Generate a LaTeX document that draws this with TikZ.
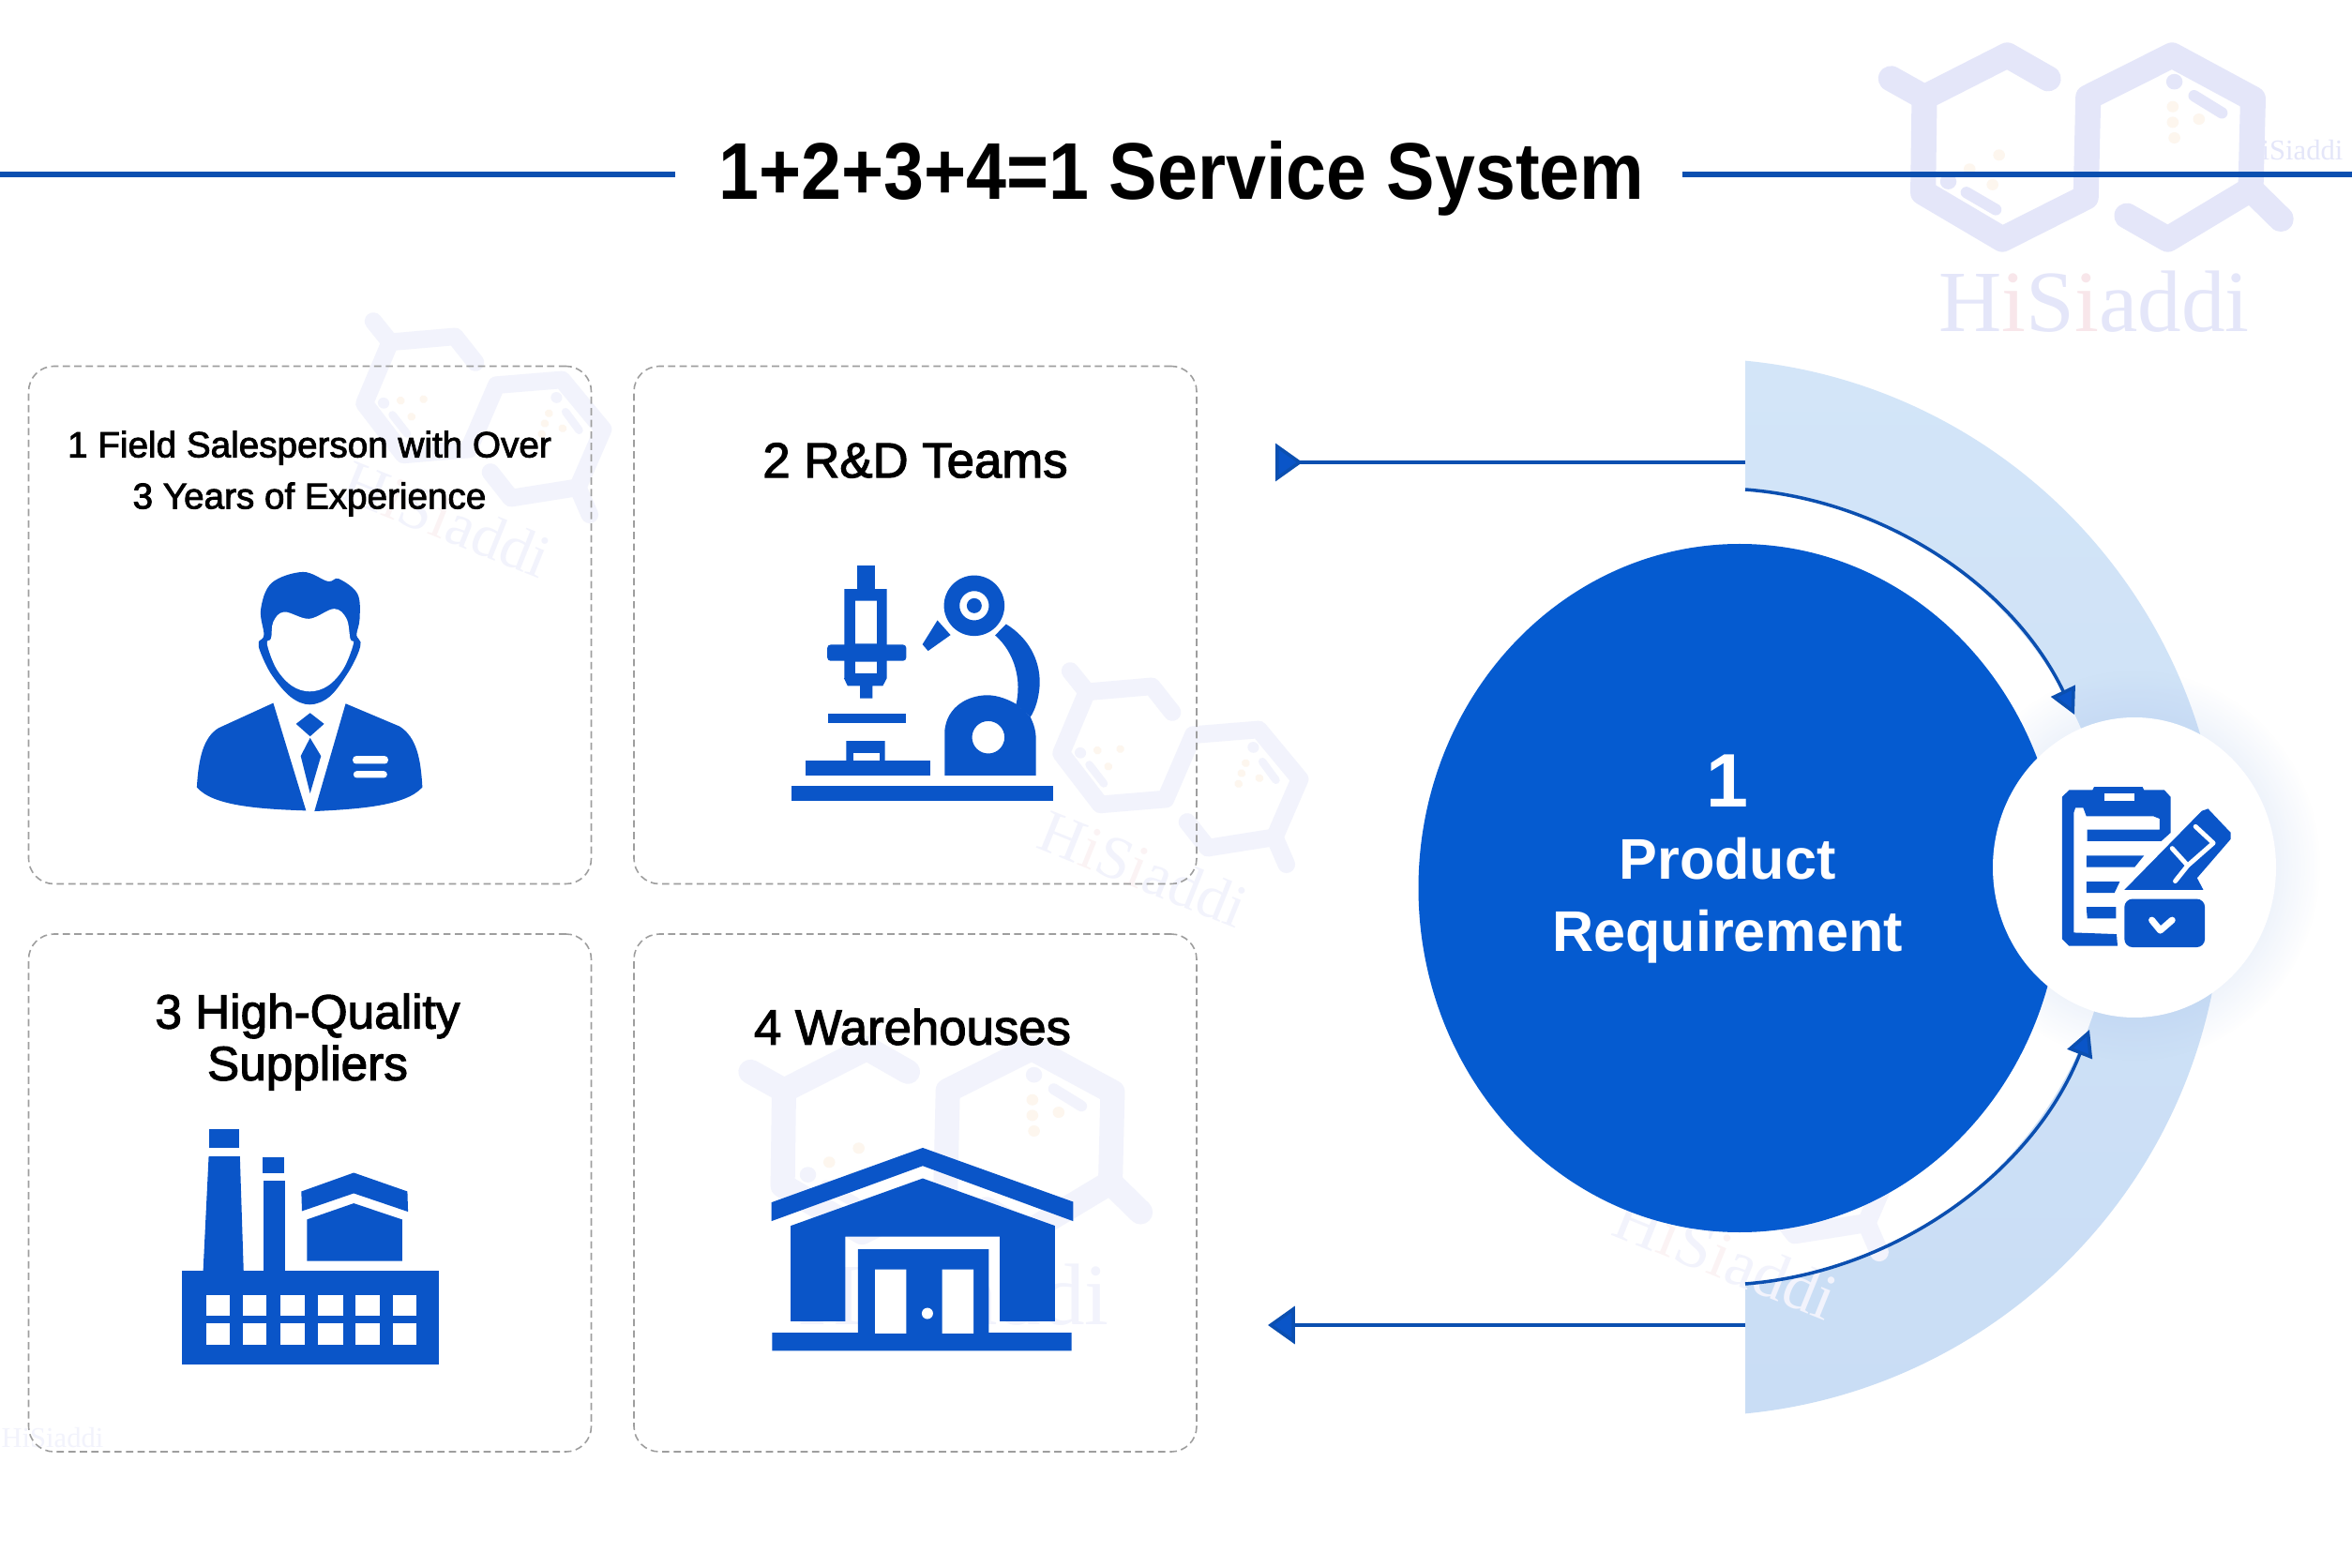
\documentclass[tikz,border=0pt]{standalone}
\usepackage{fontspec}
\usetikzlibrary{arrows.meta,shapes.geometric,fadings}
\setmainfont{Liberation Sans}
\newfontfamily\titlefont[FakeStretch=0.9]{Liberation Sans}
\newfontfamily\cardfont[FakeBold=2.2]{Liberation Sans}
\newfontfamily\logofont{Liberation Serif}
\definecolor{IconBlue}{HTML}{0A55C8}
\definecolor{DiscBlue}{HTML}{055BD0}
\definecolor{LineBlue}{HTML}{0B4FB0}
\definecolor{BandTop}{HTML}{D3E5F8}
\definecolor{BandMid}{HTML}{EAF3FC}
\definecolor{BandLow}{HTML}{C9DDF5}
\definecolor{LogoTint}{HTML}{E4E6F9}
\definecolor{LogoPale}{HTML}{F2F3FC}
\definecolor{LogoPink}{HTML}{F8E6EA}
\definecolor{LogoBlush}{HTML}{FBF3F4}
\definecolor{LogoDot}{HTML}{FDF6EE}
\tikzfading[name=glowfade,inner color=transparent!0,outer color=transparent!100]
\tikzset{
  crop/.style 2 args={shift={(#1,#2)},x=0.00333cm,y=-0.00333cm},
  pics/logomark/.style n args={3}{code={
    \begin{scope}[x=0.0035cm,y=-0.00333cm,line cap=round,line join=round]
      \foreach \dx/\dy in {260/-130,340/-90,260/-80,265/-30,-270/25,-360/70,-290/120}
        \fill[LogoDot] (\dx,\dy) circle[radius=18];
      \draw[#2,line width=#1] (-120,-220) -- (-245,-295) -- (-498,-160) -- (-600,-220);
      \draw[#2,line width=#1] (-498,-160) -- (-502,145) -- (-260,295) -- (-5,160) -- (2,-160)
        -- (258,-295) -- (505,-155) -- (498,135) -- (245,295) -- (120,220);
      \draw[#2,line width=#1] (498,135) -- (590,230);
      \draw[#2,line width=0.45*#1] (-370,145) -- (-280,200) (325,-165) -- (410,-110);
      \fill[#2] (-425,110) circle[radius=25] (265,-210) circle[radius=25];
      \node[text=#2,font=\logofont\fontsize{26.5}{30}\selectfont,transform shape] at (20,495)
        {H\textcolor{#3}{i}S\textcolor{#3}{i}addi};
    \end{scope}
  }}
}
\begin{document}
\begin{tikzpicture}[
    cardbox/.style={draw=black!38,line width=0.45pt,dash pattern=on 2.2pt off 1.3pt,rounded corners=0.27cm,
      minimum width=6cm,minimum height=5.52cm,inner sep=0pt},
    cardlabel/.style={align=center,font=\cardfont\fontsize{15}{15.7}\selectfont},
    flowline/.style={draw=LineBlue,line width=1pt},
    flowtip/.style={-{Triangle[length=8.2pt,width=11.4pt,fill=IconBlue]}},
    flowback/.style={-{Triangle[reversed,length=8.2pt,width=11.4pt,fill=IconBlue]}},
    bendtip/.style={-{Triangle[length=8pt,width=8pt,fill=IconBlue]}}
  ]
  \useasboundingbox (0,0) rectangle (25.08,-16.72);
  \fill[white] (0,0) rectangle (25.08,-16.72);

  \pic at (22.26,-1.57) {logomark={7.7pt}{LogoTint}{LogoPink}};
  \pic[rotate=-22,scale=0.7,transform shape] at (5.15,-4.45) {logomark={5.3pt}{LogoPale}{LogoBlush}};
  \pic[rotate=-22,scale=0.7,transform shape] at (12.58,-8.18) {logomark={5.3pt}{LogoPale}{LogoBlush}};
  \pic[scale=1,transform shape] at (10.1,-12.16) {logomark={7.4pt}{LogoPale}{LogoBlush}};
  \node[text=LogoTint,font=\logofont\fontsize{8.7}{10}\selectfont] (marktop) at (24.44,-1.6) {HiSiaddi};
  \node[text=LogoPale,font=\logofont\fontsize{8.7}{10}\selectfont] (markleft) at (0.56,-15.33) {HiSiaddi};

  \draw[LineBlue,line width=1.9pt] (0,-1.86) -- (7.2,-1.86);
  \draw[LineBlue,line width=1.9pt] (17.94,-1.86) -- (25.08,-1.86);
  \node[anchor=base,font=\titlefont\bfseries\fontsize{24.4}{28}\selectfont] (title) at (12.6,-2.13) {1+2+3+4=1 Service System};

  \node[cardbox] (card1) at (3.305,-6.665) {};
  \node[cardbox] (card2) at (9.76,-6.665) {};
  \node[cardbox] (card3) at (3.305,-12.72) {};
  \node[cardbox] (card4) at (9.76,-12.72) {};
  \node[cardlabel,font=\cardfont\fontsize{11}{15.6}\selectfont] (label1) at (3.3,-5.05) {1 Field Salesperson with Over\\3 Years of Experience};
  \node[cardlabel] (label2) at (9.76,-4.91) {2 R\&D Teams};
  \node[cardlabel,font=\cardfont\fontsize{14.6}{15.7}\selectfont] (label3) at (3.28,-11.11) {3 High-Quality\\Suppliers};
  \node[cardlabel] (label4) at (9.73,-10.95) {4 Warehouses};

  \begin{scope}[crop={1.7}{-5.8}]
    \fill[IconBlue] plot[smooth cycle,tension=0.6] coordinates {(482,515)(420,490)(360,420)(325,350)(318,315)(335,292)(325,210)(360,125)(460,90)(540,120)(575,112)(635,160)(642,240)(632,292)(645,315)(635,355)(600,420)(545,490)};
    \fill[white] plot[smooth cycle,tension=0.6] coordinates {(365,250)(400,218)(480,240)(560,208)(600,240)(612,305)(622,320)(590,400)(540,455)(482,473)(425,455)(375,400)(345,320)(358,303)};
    \fill[IconBlue] (365,510) -- (470,855) .. controls (320,850) and (170,840) .. (120,780) .. controls (125,690) and (140,620) .. (190,590) -- cycle;
    \fill[IconBlue] (597,512) -- (497,857) .. controls (640,850) and (790,840) .. (843,780) .. controls (838,690) and (825,620) .. (770,585) -- cycle;
    \fill[IconBlue] (483,542) -- (528,577) -- (483,617) -- (438,577) -- cycle;
    \fill[IconBlue] (483,622) -- (518,680) -- (483,800) -- (453,680) -- cycle;
    \fill[white,rounded corners=1pt] (620,680) rectangle (733,705) (622,728) rectangle (730,750);
  \end{scope}

  \begin{scope}[crop={8.2}{-5.8}]
    \fill[IconBlue] (282,70) rectangle (340,150);
    \fill[IconBlue,even odd rule] (242,145) rectangle (378,430) (276,182) rectangle (346,320) (276,378) rectangle (346,415);
    \fill[IconBlue,rounded corners=1pt] (187,323) rectangle (440,375);
    \fill[IconBlue] (240,430) -- (378,430) -- (365,455) -- (332,455) -- (332,495) -- (292,495) -- (292,455) -- (252,455) -- cycle;
    \fill[IconBlue] (190,543) rectangle (440,575);
    \fill[IconBlue,even odd rule] (248,632) rectangle (372,695) (270,670) rectangle (355,695);
    \fill[IconBlue] (117,695) rectangle (518,742);
    \fill[IconBlue] (72,775) rectangle (911,825);
    \fill[IconBlue,even odd rule] (658,198) circle[radius=97] (658,198) circle[radius=47];
    \fill[IconBlue] (658,198) circle[radius=24];
    \fill[IconBlue] (540,245) -- (582,292) -- (510,343) -- (492,322) -- cycle;
    \fill[IconBlue] (760,257) .. controls (830,300) and (870,370) .. (868,450) .. controls (866,490) and (855,530) .. (838,555) -- (792,515) .. controls (810,440) and (790,350) .. (725,293) -- cycle;
    \fill[IconBlue,even odd rule] (563,742) -- (563,600) .. controls (570,520) and (640,485) .. (700,485) .. controls (735,485) and (770,500) .. (795,515) -- (838,555) .. controls (850,580) and (856,600) .. (856,630) -- (856,742) -- cycle (703,620) circle[radius=52];
  \end{scope}

  \begin{scope}[crop={1.7}{-11.8}]
    \fill[IconBlue] (158,72) rectangle (256,133);
    \fill[IconBlue] (158,160) -- (258,160) -- (270,530) -- (140,530) -- cycle;
    \fill[IconBlue] (332,163) rectangle (400,213);
    \fill[IconBlue] (335,237) rectangle (402,530);
    \fill[IconBlue] (455,272) -- (623,212) -- (795,272) -- (797,337) -- (623,278) -- (457,335) -- cycle;
    \fill[IconBlue] (473,362) -- (623,310) -- (778,362) -- (778,495) -- (473,495) -- cycle;
    \fill[IconBlue] (72,525) rectangle (897,828);
    \foreach \wa/\wb in {150/226,267/344,388/466,508/588,628/706,748/825}
      \foreach \ha/\hb in {604/670,695/765}
        \fill[white] (\wa,\ha) rectangle (\wb,\hb);
  \end{scope}

  \begin{scope}[crop={8}{-12}]
    \fill[IconBlue] (68,247) -- (553,72) -- (1035,245) -- (1035,307) -- (553,130) -- (68,307) -- cycle;
    \fill[IconBlue] (130,322) -- (553,170) -- (977,322) -- (977,628) -- (800,628) -- (800,357) -- (305,357) -- (305,628) -- (130,628) -- cycle;
    \fill[IconBlue] (70,665) -- (345,665) -- (345,397) -- (765,397) -- (765,665) -- (1030,665) -- (1030,723) -- (70,723) -- cycle;
    \fill[white] (400,462) rectangle (500,667) (615,462) rectangle (716,667);
    \fill[white] (568,603) circle[radius=18];
  \end{scope}

  \begin{scope}
    \clip (18.61,-3.7) rectangle (24.2,-15.2);
    \shade[top color=BandTop,middle color=BandMid,bottom color=BandLow] (18.06,-9.46) circle[radius=5.64];
    \fill[white] (18.29,-9.46) circle[radius=4.25];
  \end{scope}

  \pic[rotate=-22,scale=0.75,transform shape] at (18.82,-12.24) {logomark={5.7pt}{LogoPale}{LogoBlush}};
  \fill[IconBlue!45,path fading=glowfade,opacity=0.6] (22.76,-9.23) ellipse[x radius=1.98,y radius=2.08];
  \node[ellipse,fill=DiscBlue,minimum width=6.85cm,minimum height=7.34cm,inner sep=0pt] (reqdisc) at (18.55,-9.47) {};
  \node[align=center,text=white,font=\bfseries\fontsize{17.4}{21.9}\selectfont] (reqlabel) at (18.42,-9.16) {{\fontsize{23}{21.9}\selectfont 1}\\Product\\Requirement};
  \node[ellipse,fill=white,minimum width=3.02cm,minimum height=3.2cm,inner sep=0pt] (checkdisc) at (22.76,-9.25) {};

  \begin{scope}[crop={21}{-7.4}]
    \fill[IconBlue] (297,330) -- (320,308) -- (395,308) -- (400,298) -- (555,298) -- (560,308) -- (625,308) -- (645,330) -- (645,445) -- (615,472) -- (378,472) -- (378,435) -- (610,435) -- (610,400) -- (590,392) -- (375,392) -- (365,365) -- (340,365) -- (335,380) -- (335,765) -- (472,770) -- (475,808) -- (320,808) -- (297,785) -- cycle;
    \fill[white] (432,318) rectangle (530,342);
    \fill[IconBlue] (375,518) -- (560,518) -- (530,555) -- (375,555) -- cycle;
    \fill[IconBlue] (375,602) -- (482,602) -- (465,638) -- (375,638) -- cycle;
    \fill[IconBlue] (375,683) -- (470,683) -- (470,720) -- (378,720) -- cycle;
    \fill[IconBlue] (497,628) -- (745,375) -- (765,368) -- (838,445) -- (838,465) -- (730,590) -- (750,628) -- cycle;
    \draw[white,line width=1.4pt,line cap=round,line join=round] (725,425) -- (782,478) -- (700,550) -- (650,495) (700,550) -- (660,600);
    \fill[IconBlue,rounded corners=2.5pt] (497,657) -- (755,657) -- (755,812) -- (497,812) -- cycle;
    \draw[white,line width=2pt,line cap=round,line join=round] (585,725) -- (612,758) -- (650,725);
  \end{scope}

  \coordinate (rimtop) at (18.61,-4.93);
  \coordinate (endtop) at (13.6,-4.93);
  \coordinate (rimlow) at (18.61,-14.13);
  \coordinate (endlow) at (13.52,-14.13);
  \coordinate (bendtopstart) at (18.61,-5.22);
  \coordinate (bendtopend) at (22.12,-7.62);
  \coordinate (bendlowstart) at (18.61,-13.69);
  \coordinate (bendlowend) at (22.28,-10.98);
  \draw[flowline,flowback] (rimtop) -- (endtop);
  \draw[flowline,flowtip] (rimlow) -- (endlow);
  \draw[flowline,bendtip] (bendtopstart) to[bend left=30,looseness=0.91] (bendtopend);
  \draw[flowline,bendtip] (bendlowstart) to[bend right=32,looseness=0.91] (bendlowend);
\end{tikzpicture}
\end{document}
